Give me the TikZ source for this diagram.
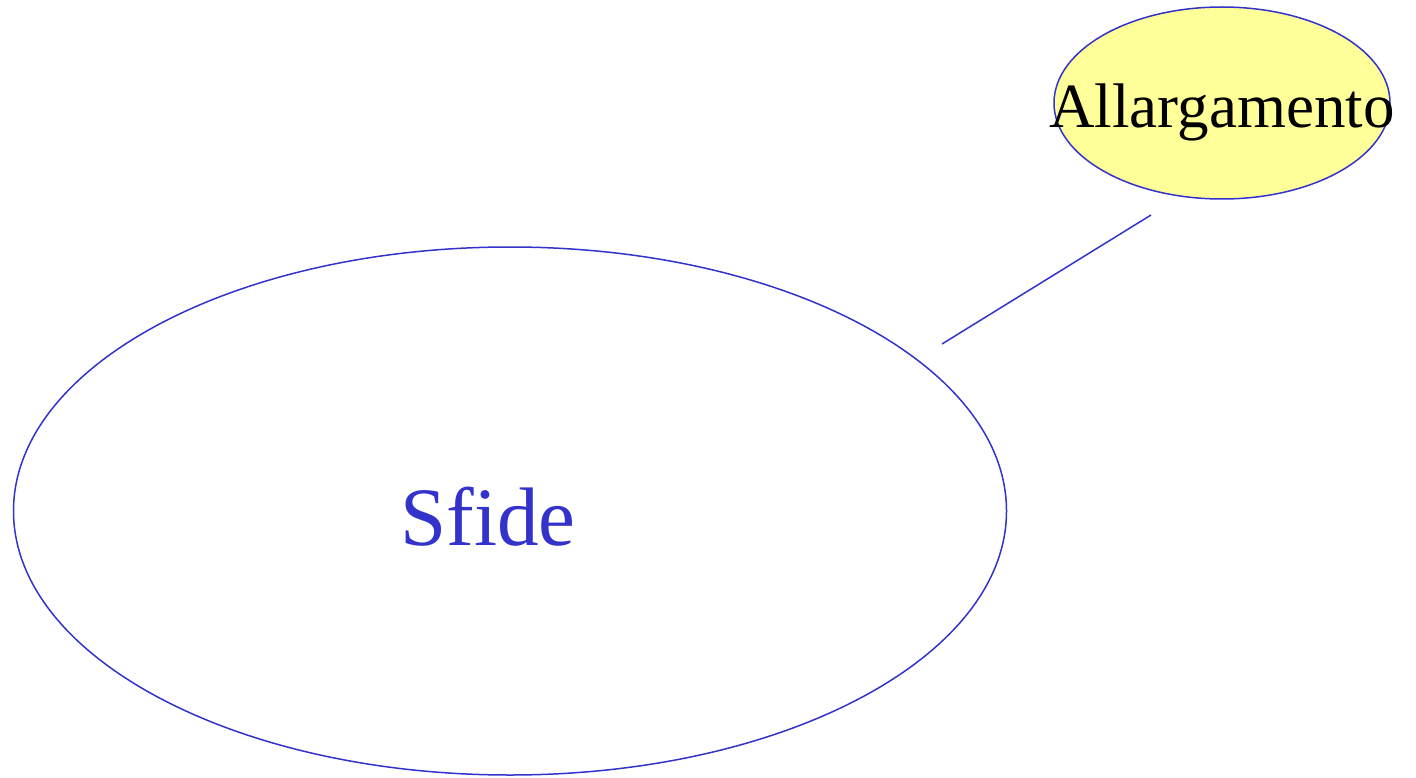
\documentclass[tikz,border=0pt]{standalone}
\usepackage{fontspec}
\setmainfont{Liberation Serif}
\usetikzlibrary{shapes.geometric}
\definecolor{lineblue}{HTML}{3333CC}
\definecolor{paleyellow}{HTML}{FFFF99}
\tikzset{
  oval/.style={ellipse, draw=lineblue, line width=1.5pt, inner sep=0pt, outer sep=0pt},
  link/.style={draw=lineblue, line width=1.5pt}
}
\begin{document}
\begin{tikzpicture}[x=1pt,y=-1pt]
\useasboundingbox (0,0) rectangle (1416,778);
\node[oval, minimum width=993pt, minimum height=528pt] (sfide) at (510,511) {};
\node[oval, fill=paleyellow, minimum width=336pt, minimum height=192pt] (allarg) at (1222,103) {};
\node[anchor=base, inner sep=0pt, text=lineblue, font=\fontsize{83}{90}\selectfont] (sfidetext) at (488,545) {Sfide};
\node[anchor=base, inner sep=0pt, text=black, font=\fontsize{63}{70}\selectfont] (allargtext) at (1222,128) {Allargamento};
\coordinate (a) at (942,344);
\coordinate (b) at (1151,215);
\draw[link] (a) -- (b);
\end{tikzpicture}
\end{document}
